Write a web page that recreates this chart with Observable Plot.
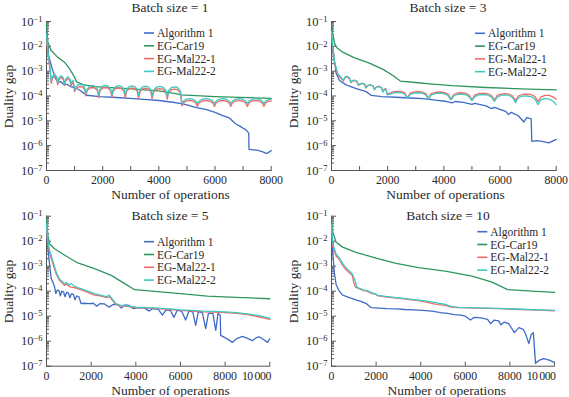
<!DOCTYPE html>
<html><head><meta charset="utf-8">
<script src="https://cdn.jsdelivr.net/npm/d3@7"></script>
<script src="https://cdn.jsdelivr.net/npm/@observablehq/plot@0.6"></script>
<style>
body{margin:0;background:#fff;}
#chart{position:relative;width:569px;height:397px;font-family:"Liberation Serif","Times New Roman",serif;color:#2a2a2a;}
.panel{position:absolute;}
</style></head><body><div id="chart"></div>
<script>
const seriesNames = ["Algorithm 1", "EG-Car19", "EG-Mal22-1", "EG-Mal22-2"];
const seriesColors = ["#3f6bc6", "#2f9560", "#f26a66", "#3ec8c2"];
const panelTitles = ["Batch size = 1", "Batch size = 3", "Batch size = 5", "Batch size = 10"];
const xMaxes = [8000, 8000, 10000, 10000];
const xLabelTicksTop = [0, 2000, 4000, 6000, 8000];
const xLabelTicksBottom = [0, 2000, 4000, 6000, 8000];
const xLastLabelBottom = [10000];
const xTickMarksTop = [1000, 2000, 3000, 4000, 5000, 6000, 7000, 8000];
const xTickMarksBottom = [2000, 4000, 6000, 8000, 10000];
const yMajorTicks = [1e-1, 1e-2, 1e-3, 1e-4, 1e-5, 1e-6, 1e-7];
const yAxisLabel = "Duality gap";
const xAxisLabel = "Number of operations";

// ---- Batch size = 1 ----
const b1_alg = [[0,2e-2],[80,4e-3],[200,1.3e-3],[320,5e-4],[420,3.6e-4],[500,3.8e-4],[600,3e-4],[740,2.9e-4],[850,2.4e-4],[1000,2.2e-4],[1200,1.66e-4],[1420,1.07e-4],[1900,9.5e-5],[2500,8.7e-5],[3100,7.8e-5],[3600,7.1e-5],[4000,6.6e-5],[4500,5.6e-5],[4800,4.9e-5],[5000,4.4e-5],[5300,3.5e-5],[5700,2.8e-5],[6000,2.2e-5],[6250,1.66e-5],[6500,1.32e-5],[6730,7.6e-6],[6900,6e-6],[7000,5e-6],[7100,4.4e-6],[7200,3.2e-6],[7210,7.1e-7],[7500,6.6e-7],[7700,5.6e-7],[7850,4.8e-7],[8000,6.3e-7]];
const b1_car = [[0,8e-2],[46,1.5e-2],[167,6.8e-3],[402,3.6e-3],[641,2.3e-3],[819,1.26e-3],[1000,5.7e-4],[1060,3.8e-4],[1300,2.9e-4],[1700,2.4e-4],[2900,2e-4],[4000,1.6e-4],[4600,1.25e-4],[4800,1.1e-4],[6000,9.5e-5],[8000,8e-5]];
const b1_mal1 = [[0,2e-2],[50,5e-3],[110,1.6e-3],[170,3.2e-4],[210,5e-4],[285,6.3e-4],[360,5e-4],[400,2.8e-4],[440,4.5e-4],[520,5.6e-4],[600,4.5e-4],[640,2.6e-4],[680,4e-4],[760,5e-4],[840,4e-4],[880,2.4e-4],[910,3.3e-4],[950,3.5e-4],[1000,1.5e-4],
[1040,1.9e-4],[1120,2.3e-4],[1200,2.4e-4],[1280,2.3e-4],[1360,1.8e-4],[1400,1e-4],
[1445,1.6e-4],[1540,2.1e-4],[1630,2.2e-4],[1720,2.1e-4],[1815,1.6e-4],[1860,8.5e-5],
[1905,1.6e-4],[2000,2.1e-4],[2095,2.2e-4],[2190,2.1e-4],[2285,1.6e-4],[2330,8.5e-5],
[2375,1.6e-4],[2470,2e-4],[2565,2.15e-4],[2660,2e-4],[2755,1.6e-4],[2800,8.3e-5],
[2850,1.55e-4],[2945,2e-4],[3040,2.1e-4],[3135,2e-4],[3230,1.55e-4],[3280,8e-5],
[3330,1.5e-4],[3425,1.95e-4],[3520,2.05e-4],[3615,1.95e-4],[3710,1.5e-4],[3760,7.8e-5],
[3815,1.45e-4],[3920,1.9e-4],[4030,2e-4],[4140,1.9e-4],[4245,1.45e-4],[4300,7.5e-5],
[4350,1.4e-4],[4455,1.8e-4],[4560,1.9e-4],[4665,1.8e-4],[4770,1.3e-4],[4820,4e-5],
[4875,5.3e-5],[4985,6.3e-5],[5095,6.6e-5],[5205,6.3e-5],[5315,5.3e-5],[5370,3.8e-5],
[5430,5.3e-5],[5555,6.3e-5],[5675,6.6e-5],[5795,6.3e-5],[5920,5.3e-5],[5980,3.8e-5],
[6040,5.3e-5],[6155,6.3e-5],[6270,6.6e-5],[6385,6.3e-5],[6500,5.3e-5],[6560,3.8e-5],
[6620,5.3e-5],[6735,6.3e-5],[6855,6.6e-5],[6975,6.3e-5],[7090,5.3e-5],[7150,3.8e-5],
[7210,5.3e-5],[7325,6.3e-5],[7445,6.6e-5],[7565,6.3e-5],[7680,5.3e-5],[7740,3.8e-5],
[7800,5.3e-5],[7920,6.2e-5],[8000,6.3e-5]];
const b1_mal2 = [[0,3e-2],[50,6e-3],[110,2e-3],[170,3.8e-4],[210,6e-4],[285,7.5e-4],[360,6e-4],[400,3.3e-4],[440,5.3e-4],[520,6.6e-4],[600,5.3e-4],[640,3e-4],[680,4.8e-4],[760,6e-4],[840,4.8e-4],[880,2.8e-4],[910,4e-4],[950,4.2e-4],[1000,1.8e-4],
[1040,2.3e-4],[1120,2.8e-4],[1200,2.9e-4],[1280,2.8e-4],[1360,2.2e-4],[1400,1.2e-4],
[1445,1.9e-4],[1540,2.5e-4],[1630,2.65e-4],[1720,2.5e-4],[1815,1.9e-4],[1860,1.1e-4],
[1905,1.9e-4],[2000,2.5e-4],[2095,2.65e-4],[2190,2.5e-4],[2285,1.9e-4],[2330,1.1e-4],
[2375,1.9e-4],[2470,2.45e-4],[2565,2.6e-4],[2660,2.45e-4],[2755,1.9e-4],[2800,1.1e-4],
[2850,1.85e-4],[2945,2.4e-4],[3040,2.55e-4],[3135,2.4e-4],[3230,1.85e-4],[3280,1.05e-4],
[3330,1.8e-4],[3425,2.35e-4],[3520,2.5e-4],[3615,2.35e-4],[3710,1.8e-4],[3760,1e-4],
[3815,1.75e-4],[3920,2.3e-4],[4030,2.45e-4],[4140,2.3e-4],[4245,1.75e-4],[4300,9.5e-5],
[4350,1.7e-4],[4455,2.2e-4],[4560,2.35e-4],[4665,2.2e-4],[4770,1.6e-4],[4820,4.8e-5],
[4875,6.3e-5],[4985,7.5e-5],[5095,7.9e-5],[5205,7.5e-5],[5315,6.3e-5],[5370,4.8e-5],
[5430,6.3e-5],[5555,7.5e-5],[5675,7.9e-5],[5795,7.5e-5],[5920,6.3e-5],[5980,4.8e-5],
[6040,6.3e-5],[6155,7.5e-5],[6270,7.9e-5],[6385,7.5e-5],[6500,6.3e-5],[6560,4.8e-5],
[6620,6.3e-5],[6735,7.5e-5],[6855,7.9e-5],[6975,7.5e-5],[7090,6.3e-5],[7150,4.8e-5],
[7210,6.3e-5],[7325,7.5e-5],[7445,7.9e-5],[7565,7.5e-5],[7680,6.3e-5],[7740,4.8e-5],
[7800,6.3e-5],[7920,7.3e-5],[8000,7.5e-5]];

// ---- Batch size = 3 ----
const b3_alg = [[0,2e-2],[50,8e-3],[107,2.5e-3],[166,8e-4],[285,4.2e-4],[520,2.8e-4],[880,2e-4],[1235,1.5e-4],[1413,1.05e-4],[1800,9.5e-5],[2300,8.9e-5],[2800,8.3e-5],[3250,7.8e-5],[3700,6.8e-5],[4100,6e-5],[4300,5.3e-5],[4400,6e-5],[4700,5.5e-5],[5000,4.6e-5],[5100,5e-5],[5500,4e-5],[5700,3.1e-5],[5800,3.5e-5],[6200,2.4e-5],[6300,1.8e-5],[6400,2.2e-5],[6650,1.6e-5],[6850,9e-6],[6950,1.35e-5],[7050,1.25e-5],[7110,1.2e-5],[7130,1.5e-6],[7300,1.6e-6],[7500,1.5e-6],[7736,1.3e-6],[8000,1.8e-6]];
const b3_car = [[0,8e-2],[50,3e-2],[110,1.3e-2],[200,8.5e-3],[400,5.8e-3],[800,3.5e-3],[1350,2.1e-3],[1850,1.15e-3],[2200,6.5e-4],[2450,4e-4],[3000,3.5e-4],[3600,3e-4],[4300,2.6e-4],[5500,2.2e-4],[7000,1.9e-4],[8000,1.75e-4]];
const b3_mal1 = [[0,3e-2],[50,8e-3],[110,2e-3],[225,7e-4],[350,5e-4],[420,4e-4],[480,5.5e-4],[560,6e-4],[640,5e-4],[690,3.4e-4],[740,4e-4],[820,4.2e-4],[900,3.8e-4],[960,2.7e-4],[1020,3e-4],[1100,3.2e-4],[1180,2.9e-4],[1230,2.1e-4],[1280,2.6e-4],[1380,2.8e-4],[1480,2.5e-4],[1530,1.8e-4],[1580,2.3e-4],[1680,2.5e-4],[1780,2.2e-4],[1830,1.5e-4],[1880,1.9e-4],[1930,2e-4],[1990,1.2e-4],
[2100,1.35e-4],[2230,1.5e-4],[2350,1.55e-4],[2500,1.5e-4],[2620,1.3e-4],[2700,8.5e-5],
[2800,1.3e-4],[2950,1.45e-4],[3080,1.5e-4],[3230,1.45e-4],[3360,1.25e-4],[3450,8e-5],
[3550,1.25e-4],[3700,1.4e-4],[3850,1.45e-4],[4000,1.4e-4],[4150,1.2e-4],[4250,7.5e-5],
[4350,1.15e-4],[4480,1.3e-4],[4620,1.35e-4],[4760,1.3e-4],[4900,1.1e-4],[5000,7e-5],
[5100,1.1e-4],[5250,1.25e-4],[5400,1.3e-4],[5550,1.25e-4],[5700,1.05e-4],[5800,6.8e-5],
[5900,1.05e-4],[6030,1.2e-4],[6170,1.25e-4],[6320,1.2e-4],[6450,1e-4],[6550,6.5e-5],
[6650,1e-4],[6800,1.15e-4],[6950,1.2e-4],[7100,1.15e-4],[7250,9.5e-5],[7350,6e-5],
[7450,9e-5],[7600,1.05e-4],[7750,1.05e-4],[7900,9e-5],[8000,7.5e-5]];
const b3_mal2 = [[0,4e-2],[50,1e-2],[110,2.3e-3],[225,8e-4],[350,5.5e-4],[420,4.3e-4],[480,5.8e-4],[560,6.3e-4],[640,5.3e-4],[690,3.6e-4],[740,4.2e-4],[820,4.4e-4],[900,4e-4],[960,2.8e-4],[1020,3.1e-4],[1100,3.3e-4],[1180,3e-4],[1230,2.2e-4],[1280,2.6e-4],[1380,2.8e-4],[1480,2.5e-4],[1530,1.8e-4],[1580,2.2e-4],[1680,2.4e-4],[1780,2.1e-4],[1830,1.45e-4],[1880,1.8e-4],[1930,1.85e-4],[1990,1.1e-4],
[2100,1.2e-4],[2230,1.35e-4],[2350,1.4e-4],[2500,1.35e-4],[2620,1.15e-4],[2700,8e-5],
[2800,1.15e-4],[2950,1.3e-4],[3080,1.35e-4],[3230,1.3e-4],[3360,1.1e-4],[3450,7.5e-5],
[3550,1.1e-4],[3700,1.25e-4],[3850,1.3e-4],[4000,1.25e-4],[4150,1.05e-4],[4250,7e-5],
[4350,1e-4],[4480,1.15e-4],[4620,1.2e-4],[4760,1.15e-4],[4900,9.5e-5],[5000,6.5e-5],
[5100,9.5e-5],[5250,1.1e-4],[5400,1.15e-4],[5550,1.1e-4],[5700,9e-5],[5800,6e-5],
[5900,9e-5],[6030,1.05e-4],[6170,1.1e-4],[6320,1.05e-4],[6450,8.5e-5],[6550,5.5e-5],
[6650,8.5e-5],[6800,9.8e-5],[6950,1e-4],[7100,9.5e-5],[7250,7.5e-5],[7350,4.5e-5],
[7450,7e-5],[7600,8e-5],[7750,7.5e-5],[7900,6e-5],[8000,4.5e-5]];

// ---- Batch size = 5 ----
const b5_alg = [[0,3e-2],[60,5.8e-3],[134,1.26e-3],[210,3.2e-4],[285,2.3e-4],[360,1.5e-4],[420,8e-5],[480,1.1e-4],[560,1.05e-4],[620,6.5e-5],[680,1e-4],[760,9.5e-5],[830,6e-5],[900,9e-5],[980,8.5e-5],[1050,5.5e-5],[1120,8e-5],[1200,7.5e-5],[1280,4.5e-5],[1350,6.5e-5],[1450,6e-5],[1550,3.2e-5],[1700,3.3e-5],[1900,3.2e-5],[2100,3.3e-5],[2250,2.5e-5],[2400,3.2e-5],[2600,3.1e-5],[2800,2.3e-5],[3000,3e-5],[3200,2.9e-5],[3350,2.1e-5],[3500,2.8e-5],[3700,2.7e-5],[3900,2e-5],[4100,2.2e-5],[4400,2.1e-5],[4600,1.6e-5],[4750,2e-5],[5000,1.9e-5],[5190,1.1e-5],[5350,1.8e-5],[5550,1.7e-5],[5710,9e-6],[5850,1.7e-5],[6050,1.6e-5],[6230,7e-6],[6380,1.6e-5],[6550,1.5e-5],[6680,4.3e-6],[6800,1.5e-5],[6980,1.4e-5],[7130,3.2e-6],[7250,1.3e-5],[7450,1.3e-5],[7580,2.7e-6],[7680,1.3e-5],[7780,1.1e-5],[7800,1.7e-6],[8050,1.3e-6],[8330,9e-7],[8550,1.3e-6],[8775,1.55e-6],[9000,1.3e-6],[9224,1.05e-6],[9400,1.4e-6],[9520,1.5e-6],[9700,1.2e-6],[9900,9e-7],[10000,1.25e-6]];
const b5_car = [[0,8e-2],[60,1.7e-2],[134,7.9e-3],[360,5e-3],[800,2.8e-3],[1400,1.35e-3],[2150,8e-4],[2900,4.3e-4],[3500,2e-4],[3950,1.15e-4],[4850,9.8e-5],[6000,8e-5],[7200,6.4e-5],[8500,5.7e-5],[10000,5e-5]];
const b5_mal1 = [[0,4e-2],[60,8e-3],[134,3.6e-3],[285,1.26e-3],[430,5e-4],[580,2.7e-4],[700,2.2e-4],[800,1.7e-4],[900,1.9e-4],[1000,1.6e-4],[1100,1.45e-4],[1250,1.4e-4],[1400,1.26e-4],[1600,1.1e-4],[1850,9e-5],[2150,7e-5],[2400,6.5e-5],[2700,5.5e-5],[2800,6e-5],[2900,5e-5],[3100,3e-5],[3300,2.6e-5],[3600,2.5e-5],[4000,2.2e-5],[4500,2.1e-5],[5000,2e-5],[5500,1.85e-5],[6000,1.7e-5],[6500,1.6e-5],[7000,1.5e-5],[7500,1.45e-5],[8000,1.4e-5],[8500,1.3e-5],[9000,1.15e-5],[9500,9.5e-6],[10000,7.5e-6]];
const b5_mal2 = [[0,5e-2],[60,1e-2],[134,4.5e-3],[285,1.6e-3],[430,6e-4],[580,3e-4],[700,2.5e-4],[800,2e-4],[900,2.2e-4],[1000,1.8e-4],[1100,2e-4],[1250,1.6e-4],[1400,1.4e-4],[1600,1.2e-4],[1850,1e-4],[2150,8e-5],[2400,7e-5],[2700,6e-5],[2800,7e-5],[2900,5.5e-5],[3100,3.2e-5],[3300,2.8e-5],[3600,2.6e-5],[4000,2.3e-5],[4500,2.2e-5],[5000,2.1e-5],[5500,1.95e-5],[6000,1.8e-5],[6500,1.7e-5],[7000,1.6e-5],[7500,1.55e-5],[8000,1.5e-5],[8500,1.4e-5],[9000,1.25e-5],[9500,1.05e-5],[10000,8.3e-6]];

// ---- Batch size = 10 ----
const b10_alg = [[0,2e-2],[60,3e-3],[134,5e-4],[210,1.8e-4],[350,1e-4],[500,7e-5],[800,5.5e-5],[1100,4.5e-5],[1350,3.8e-5],[1555,3.2e-5],[1780,2.2e-5],[2100,2.1e-5],[2500,2e-5],[2900,1.95e-5],[3300,1.85e-5],[3700,1.8e-5],[4100,1.7e-5],[4500,1.6e-5],[4900,1.4e-5],[5200,1.3e-5],[5500,1.15e-5],[5800,1.1e-5],[6000,1e-5],[6230,7e-6],[6400,9e-6],[6700,8.5e-6],[7000,7.5e-6],[7130,5e-6],[7300,7e-6],[7500,6.5e-6],[7600,4.5e-6],[7750,5.8e-6],[7950,5e-6],[8200,2.2e-6],[8400,3.5e-6],[8600,3e-6],[8700,2e-6],[8850,8e-7],[8950,1.8e-6],[9050,2.2e-6],[9150,1.3e-7],[9300,1.7e-7],[9519,2e-7],[9800,1.7e-7],[10000,1.4e-7]];
const b10_car = [[0,8e-2],[60,2.3e-2],[210,9e-3],[500,5.8e-3],[1100,3.6e-3],[2000,2.1e-3],[2900,1.3e-3],[3900,8.8e-4],[5100,6.3e-4],[6300,4e-4],[7200,2.3e-4],[7900,1.15e-4],[9000,1e-4],[10000,9e-5]];
const b10_mal1 = [[0,4e-2],[60,6e-3],[210,2.5e-3],[330,2e-3],[500,1.1e-3],[630,7.5e-4],[800,5.5e-4],[930,4.3e-4],[1000,2.2e-4],[1080,1.45e-4],[1250,1.25e-4],[1450,1.05e-4],[1600,1e-4],[1820,8e-5],[2000,7.5e-5],[2050,6.6e-5],[2400,6e-5],[2700,5.6e-5],[3100,5.2e-5],[3500,4.6e-5],[3900,4.2e-5],[4300,3.6e-5],[4600,3.1e-5],[4800,2.9e-5],[5100,2.7e-5],[5400,2.3e-5],[5700,2.2e-5],[6500,2.1e-5],[7500,2e-5],[8500,1.85e-5],[9300,1.75e-5],[10000,1.65e-5]];
const b10_mal2 = [[0,5e-2],[60,8e-3],[210,3e-3],[330,2.3e-3],[500,1.3e-3],[630,9e-4],[800,6.5e-4],[930,5e-4],[1050,2.8e-4],[1130,1.5e-4],[1250,1.3e-4],[1450,1.1e-4],[1600,1.05e-4],[1820,8.5e-5],[2000,7.8e-5],[2050,6.8e-5],[2400,6.2e-5],[2700,5.8e-5],[3100,5.3e-5],[3500,4.8e-5],[3900,4.4e-5],[4300,4e-5],[4600,3.6e-5],[4800,3.3e-5],[5100,3e-5],[5400,2.4e-5],[5700,2.25e-5],[6500,2.15e-5],[7500,2.05e-5],[8500,1.9e-5],[9300,1.8e-5],[10000,1.7e-5]];

const panelSeries = [
  [b1_alg, b1_car, b1_mal1, b1_mal2],
  [b3_alg, b3_car, b3_mal1, b3_mal2],
  [b5_alg, b5_car, b5_mal1, b5_mal2],
  [b10_alg, b10_car, b10_mal1, b10_mal2]
];

// layout (pixel placement only)
const layout = [
  {left:0, top:0, w:285, h:200, ml:46, mr:14.3, mt:21, mb:30, title:[170,7.5], xlab:[170.5,194.5], legX:144, legY0:33},
  {left:285, top:0, w:284, h:200, ml:46, mr:13.3, mt:21, mb:30, title:[163,7.5], xlab:[160.5,194.5], legX:190, legY0:33.3},
  {left:0, top:195, w:285, h:202, ml:46, mr:15.7, mt:20.7, mb:31.3, title:[170,20.7], xlab:[170.5,195], legX:144, legY0:46.7},
  {left:285, top:195, w:284, h:202, ml:46, mr:15, mt:20.7, mb:31.3, title:[163,20.7], xlab:[161.7,195], legX:192.3, legY0:36.7}
];
const legendRowStep = 12.8;

const FONT = '"Liberation Serif","Times New Roman",serif';
const TEXT = "#2a2a2a";
const yMinorTicks = [];
yMajorTicks.slice(1).forEach(m => { for (let k = 2; k <= 9; k++) yMinorTicks.push(m * k); });

const chart = document.getElementById("chart");
const NS = "http://www.w3.org/2000/svg";

function addText(svg, x, y, str, opts = {}) {
  const t = document.createElementNS(NS, "text");
  t.setAttribute("x", x); t.setAttribute("y", y);
  t.setAttribute("dy", "0.35em");
  t.setAttribute("font-family", FONT);
  t.setAttribute("font-size", opts.size || 13);
  t.setAttribute("fill", TEXT);
  t.setAttribute("text-anchor", opts.anchor || "middle");
  if (opts.transform) t.setAttribute("transform", opts.transform);
  t.textContent = str;
  svg.appendChild(t);
  return t;
}

panelSeries.forEach((series, i) => {
  const L = layout[i];
  const bottomRow = i >= 2;
  const rows = [];
  series.forEach((pts, s) => pts.forEach(([x, y]) => rows.push({x, y, s: seriesNames[s]})));
  const xfmt = d => String(d);
  const marks = [
    Plot.axisY({ticks: yMajorTicks, tickSize: 0, tickPadding: 4, label: null, fontSize: 12.5,
      tickFormat: d => "10|\u2212" + Math.round(-Math.log10(d))}),
    Plot.axisY({ticks: yMajorTicks, tickSize: -5, tickFormat: () => "", label: null, stroke: "#555"}),
    Plot.axisY({ticks: yMinorTicks, tickSize: -3, tickFormat: () => "", label: null, stroke: "#555"}),
    Plot.axisX({ticks: bottomRow ? xLabelTicksBottom : xLabelTicksTop, tickSize: 0, tickPadding: 5.5, label: null, fontSize: 11.8, tickFormat: xfmt}),
    Plot.axisX({ticks: bottomRow ? xTickMarksBottom : xTickMarksTop, tickSize: -4, tickFormat: () => "", label: null, stroke: "#555"}),
    Plot.frame({anchor: "left", stroke: "#555"}),
    Plot.frame({anchor: "bottom", stroke: "#555"}),
    Plot.line(rows, {x: "x", y: "y", z: "s", stroke: "s", strokeWidth: 1.3})
  ];
  if (bottomRow) {
    marks.splice(4, 0, Plot.axisX({ticks: xLastLabelBottom, tickSize: 0, tickPadding: 5.5, label: null, fontSize: 11.8, textAnchor: "end", dx: 1,
      tickFormat: d => "10\u2009000"}));
  }
  const svg = Plot.plot({
    width: L.w, height: L.h,
    marginLeft: L.ml, marginRight: L.mr, marginTop: L.mt, marginBottom: L.mb,
    style: {fontFamily: FONT, color: TEXT, background: "transparent", overflow: "visible"},
    x: {domain: [0, xMaxes[i]]},
    y: {type: "log", domain: [1e-7, 1e-1]},
    color: {domain: seriesNames, range: seriesColors},
    marks
  });
  // superscript exponents on y tick labels; condense the wide last x label
  svg.querySelectorAll('g[aria-label="y-axis tick label"] text').forEach(t => {
    const s = t.textContent;
    if (!s.includes("|")) return;
    const [base, exp] = s.split("|");
    t.textContent = base;
    const ts = document.createElementNS(NS, "tspan");
    ts.setAttribute("dy", "-0.45em");
    ts.setAttribute("font-size", "8.5px");
    ts.textContent = exp;
    t.appendChild(ts);
  });
  svg.querySelectorAll('g[aria-label="x-axis tick label"] text').forEach(t => {
    if (t.textContent.includes("\u2009")) t.setAttribute("letter-spacing", "-0.5");
  });
  // title, axis labels
  addText(svg, L.title[0], L.title[1], panelTitles[i], {size: 13.5});
  addText(svg, L.xlab[0], L.xlab[1], xAxisLabel, {size: 13.5});
  addText(svg, 0, 0, yAxisLabel, {size: 13.5, transform: `translate(8.5,96.5) rotate(-90)`});
  // legend
  seriesNames.forEach((name, s) => {
    const y = L.legY0 + s * legendRowStep;
    const ln = document.createElementNS(NS, "line");
    ln.setAttribute("x1", L.legX); ln.setAttribute("x2", L.legX + 10);
    ln.setAttribute("y1", y); ln.setAttribute("y2", y);
    ln.setAttribute("stroke", seriesColors[s]); ln.setAttribute("stroke-width", 1.6);
    svg.appendChild(ln);
    addText(svg, L.legX + 13, y, name, {size: 11.5, anchor: "start"});
  });
  const wrap = document.createElement("div");
  wrap.className = "panel";
  wrap.style.left = L.left + "px";
  wrap.style.top = L.top + "px";
  wrap.appendChild(svg);
  chart.appendChild(wrap);
});
</script>
</body></html>
